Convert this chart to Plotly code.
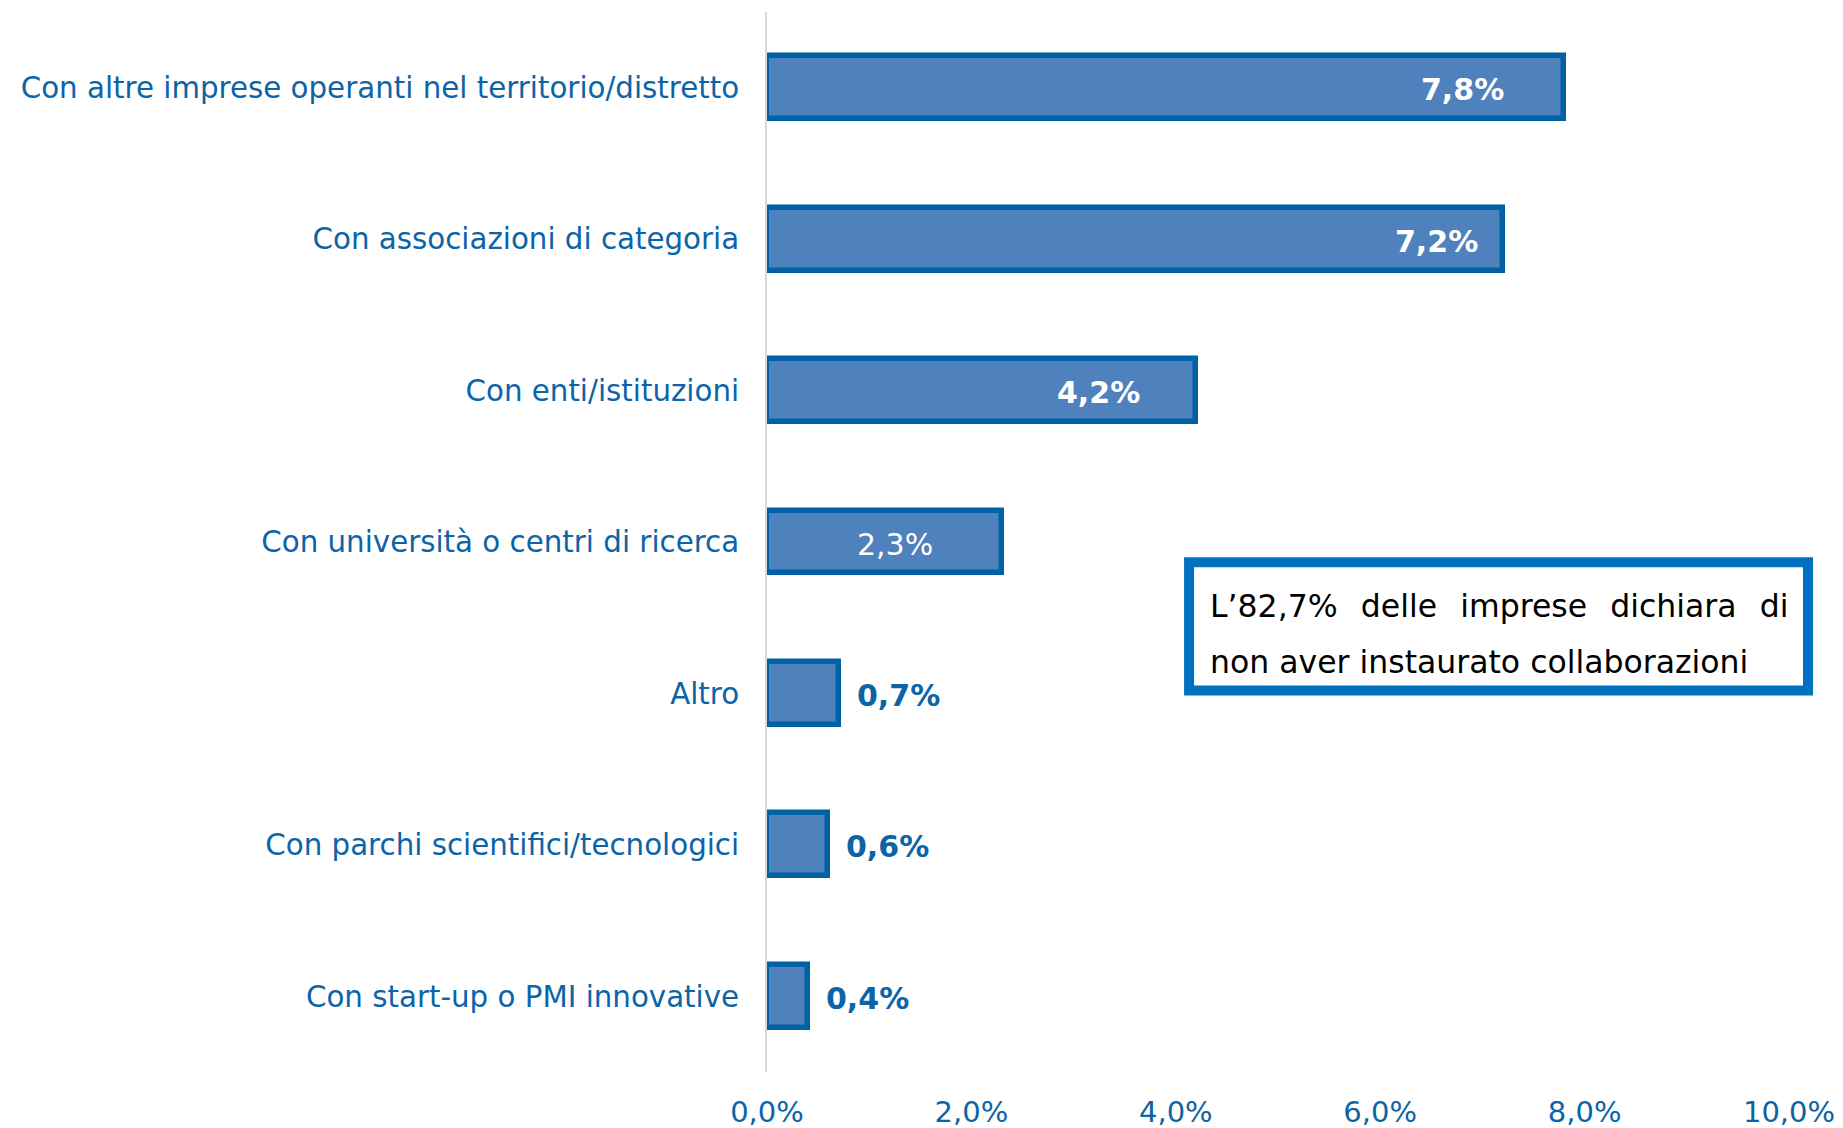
import plotly.graph_objects as go

# data (top to bottom)
categories = [
    "Con altre imprese operanti nel territorio/distretto",
    "Con associazioni di categoria",
    "Con enti/istituzioni",
    "Con università o centri di ricerca",
    "Altro",
    "Con parchi scientifici/tecnologici",
    "Con start-up o PMI innovative",
]
values = [7.8, 7.2, 4.2, 2.3, 0.7, 0.6, 0.4]
tick_vals = [0, 2, 4, 6, 8, 10]
tick_text = ["0,0%", "2,0%", "4,0%", "6,0%", "8,0%", "10,0%"]
note_line1 = ["L’82,7%", "delle", "imprese", "dichiara", "di"]
note_line2 = "non aver instaurato collaborazioni"

FONT = "Verdana, DejaVu Sans, sans-serif"
BLUE_TXT = "#0B64A8"
BAR_FILL = "#4F81BD"
BAR_LINE = "#0062A4"
BOX_LINE = "#0070C0"

fig = go.Figure()

fig.add_trace(go.Bar(
    x=values,
    y=categories,
    orientation="h",
    width=0.415,
    marker=dict(color=BAR_FILL, line=dict(color=BAR_LINE, width=5.5)),
    hoverinfo="skip",
))

# value labels: (anchor, xshift, bold, color)
label_style = [
    ("right", -58, True, "white"),
    ("right", -23, True, "white"),
    ("right", -54, True, "white"),
    ("center", None, False, "white"),
    ("left", 16, True, BLUE_TXT),
    ("left", 16, True, BLUE_TXT),
    ("left", 16, True, BLUE_TXT),
]
for cat, v, (anchor, shift, bold, col) in zip(categories, values, label_style):
    txt = f"{v:.1f}%".replace(".", ",")
    if anchor == "center":
        xpos, xs = v / 2, 10
    else:
        xpos, xs = v, shift
    fig.add_annotation(
        x=xpos, y=cat, xref="x", yref="y",
        text=f"<b>{txt}</b>" if bold else txt,
        showarrow=False, xanchor=anchor, xshift=xs, yshift=-2,
        font=dict(family=FONT, size=30, color=col),
    )

# note box
fig.add_shape(
    type="rect", xref="paper", yref="paper",
    x0=0.413, x1=1.0186, y0=0.360, y1=0.481,
    line=dict(color=BOX_LINE, width=10), fillcolor="white",
)
sp = "\u00a0\u00a0\u200a"  # rough justification of the first line
fig.add_annotation(
    x=0.4315, y=0.4396, xref="paper", yref="paper",
    text=sp.join(note_line1), showarrow=False, xanchor="left",
    font=dict(family=FONT, size=31.5, color="black"),
)
fig.add_annotation(
    x=0.4315, y=0.3868, xref="paper", yref="paper",
    text=note_line2, showarrow=False, xanchor="left",
    font=dict(family=FONT, size=31.5, color="black"),
)

fig.update_layout(
    width=1843, height=1128,
    margin=dict(l=767, r=54, t=12, b=56),
    plot_bgcolor="white", paper_bgcolor="white",
    showlegend=False,
    bargap=0,
    xaxis=dict(
        range=[0, 10], tickvals=tick_vals, ticktext=tick_text,
        showgrid=False, zeroline=False, showline=False,
        ticklabelstandoff=20, automargin=False,
        tickfont=dict(family=FONT, size=29, color=BLUE_TXT),
    ),
    yaxis=dict(
        autorange="reversed", automargin=False,
        showgrid=False, zeroline=False,
        showline=True, linecolor="#D9D9D9", linewidth=2,
        ticks="", ticklabelstandoff=20,
        tickfont=dict(family=FONT, size=29.3, color=BLUE_TXT),
    ),
)

fig.write_html("out.html", config={"displayModeBar": False},
               post_script="document.body.style.margin='0';")
